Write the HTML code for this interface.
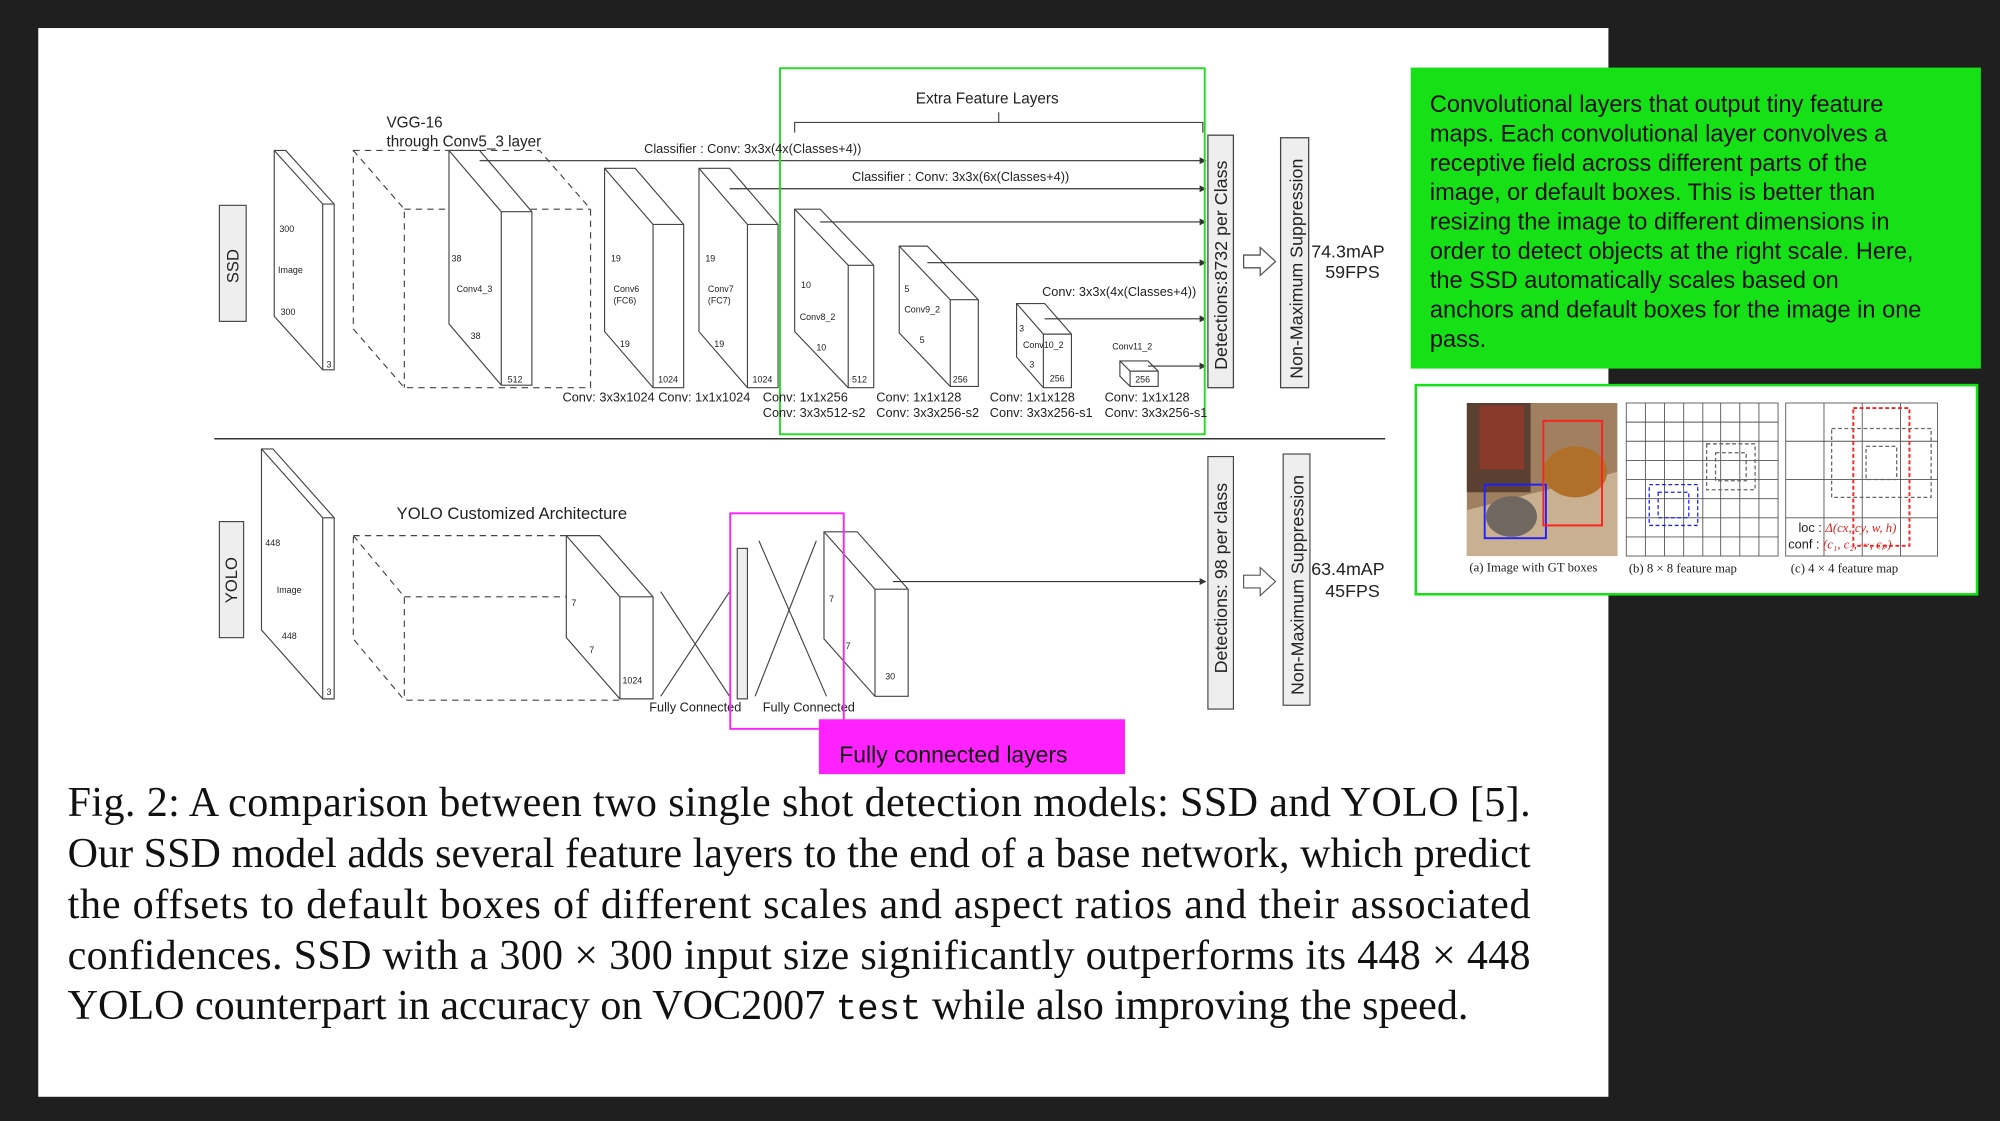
<!DOCTYPE html>
<html><head><meta charset="utf-8">
<style>
html,body{margin:0;padding:0;background:#1f1f1f;}
svg{display:block}
.s{font-family:"Liberation Sans",sans-serif;}
.r{font-family:"Liberation Serif",serif;}
</style></head>
<body>
<svg width="2000" height="1121" viewBox="0 0 1568 879" preserveAspectRatio="none" xmlns="http://www.w3.org/2000/svg">
<defs>
<marker id="a" markerWidth="6" markerHeight="6" refX="5" refY="3" orient="auto"><path d="M0,0 L6,3 L0,6 z" fill="#333"/></marker>
</defs>
<rect x="0" y="0" width="1568" height="879" fill="#1f1f1f"/>
<rect x="30" y="22" width="1231" height="838" fill="#fff"/>

<g fill="none" stroke="#444" stroke-width="0.9">
<rect x="172" y="161" width="21" height="91" fill="#eee"/>
<path d="M215,118 L224,118 L262,160 L262,290 L253,290 L215,248 Z M215,118 L253,160 L253,290 M253,160 L262,160"/>
<path stroke-dasharray="5,4" d="M277,118 L423,118 L463,164 L463,304 L317,304 L277,258 Z M277,118 L317,164 L317,304 M317,164 L463,164"/>
<path fill="#fff" d="M352,118 L376,118 L417,166 L417,302 L393,302 L352,254 Z"/>
<path d="M352,118 L393,166 L393,302 M393,166 L417,166"/>
<path fill="#fff" d="M474,132 L498,132 L536,176 L536,304 L512,304 L474,260 Z"/>
<path d="M474,132 L512,176 L512,304 M512,176 L536,176"/>
<path fill="#fff" d="M548,132 L572,132 L610,176 L610,304 L586,304 L548,260 Z"/>
<path d="M548,132 L586,176 L586,304 M586,176 L610,176"/>
<path fill="#fff" d="M623,164 L643,164 L685,208 L685,304 L665,304 L623,260 Z"/>
<path d="M623,164 L665,208 L665,304 M665,208 L685,208"/>
<path fill="#fff" d="M705,193 L727,193 L767,235 L767,303 L745,303 L705,261 Z"/>
<path d="M705,193 L745,235 L745,303 M745,235 L767,235"/>
<path fill="#fff" d="M797,238 L819,238 L840,262 L840,304 L818,304 L797,280 Z"/>
<path d="M797,238 L818,262 L818,304 M818,262 L840,262"/>
<path fill="#fff" d="M878,283 L900,283 L908,291 L908,303 L886,303 L878,295 Z"/>
<path d="M878,283 L886,291 L886,303 M886,291 L908,291"/>
</g>
<g stroke="#333" stroke-width="0.9" marker-end="url(#a)">
<line x1="376" y1="126" x2="945" y2="126"/>
<line x1="572" y1="148" x2="945" y2="148"/>
<line x1="643" y1="174" x2="945" y2="174"/>
<line x1="727" y1="206" x2="945" y2="206"/>
<line x1="819" y1="250" x2="945" y2="250"/>
<line x1="900" y1="287" x2="945" y2="287"/>
</g>
<path d="M623,104 L623,96 L783,96 L783,88 M783,96 L943,96 L943,104" fill="none" stroke="#444" stroke-width="0.9"/>
<rect x="947" y="106" width="20" height="198" fill="#eee" stroke="#444"/>
<rect x="1004" y="108" width="22" height="196" fill="#eee" stroke="#444"/>
<path d="M975,200 L988,200 L988,194 L1000,205 L988,216 L988,210 L975,210 Z" fill="#fff" stroke="#555"/>
<rect x="611.5" y="53.5" width="333" height="287" fill="none" stroke="#22dd22" stroke-width="1.5"/>

<g class="s" fill="#222" font-size="12">
<text x="718" y="81">Extra Feature Layers</text>
<text x="303" y="100">VGG-16</text>
<text x="303" y="115">through Conv5_3 layer</text>
<text x="505" y="120" font-size="10">Classifier : Conv: 3x3x(4x(Classes+4))</text>
<text x="668" y="142" font-size="10">Classifier : Conv: 3x3x(6x(Classes+4))</text>
<text x="817" y="232" font-size="10">Conv: 3x3x(4x(Classes+4))</text>
<text x="1028" y="202" font-size="14">74.3mAP</text>
<text x="1039" y="218" font-size="14">59FPS</text>
<text transform="translate(187,222) rotate(-90)" font-size="13">SSD</text>
<text transform="translate(962,290) rotate(-90)" font-size="14">Detections:8732 per Class</text>
<text transform="translate(1021,297) rotate(-90)" font-size="14">Non-Maximum Suppression</text>
<g font-size="7">
<text x="219" y="182">300</text><text x="218" y="214">Image</text><text x="220" y="247">300</text><text x="256" y="288">3</text>
<text x="354" y="205">38</text><text x="358" y="229">Conv4_3</text><text x="369" y="266">38</text><text x="398" y="300">512</text>
<text x="479" y="205">19</text><text x="481" y="229">Conv6</text><text x="481" y="238">(FC6)</text><text x="486" y="272">19</text><text x="516" y="300">1024</text>
<text x="553" y="205">19</text><text x="555" y="229">Conv7</text><text x="555" y="238">(FC7)</text><text x="560" y="272">19</text><text x="590" y="300">1024</text>
<text x="628" y="226">10</text><text x="627" y="251">Conv8_2</text><text x="640" y="275">10</text><text x="668" y="300">512</text>
<text x="709" y="229">5</text><text x="709" y="245">Conv9_2</text><text x="721" y="269">5</text><text x="747" y="300">256</text>
<text x="799" y="260">3</text><text x="802" y="273">Conv10_2</text><text x="807" y="288">3</text><text x="823" y="299">256</text>
<text x="872" y="274">Conv11_2</text><text x="890" y="300">256</text>
</g>
<g font-size="10">
<text x="441" y="315">Conv: 3x3x1024 Conv: 1x1x1024</text>
<text x="598" y="315">Conv: 1x1x256</text><text x="598" y="327">Conv:  3x3x512-s2</text>
<text x="687" y="315">Conv: 1x1x128</text><text x="687" y="327">Conv: 3x3x256-s2</text>
<text x="776" y="315">Conv: 1x1x128</text><text x="776" y="327">Conv: 3x3x256-s1</text>
<text x="866" y="315">Conv: 1x1x128</text><text x="866" y="327">Conv: 3x3x256-s1</text>
</g>
</g>

<line x1="168" y1="344" x2="1086" y2="344" stroke="#333" stroke-width="1.2"/>

<g fill="none" stroke="#444" stroke-width="0.9">
<rect x="172" y="409" width="19" height="91" fill="#eee"/>
<path d="M205,352 L214,352 L262,406 L262,548 L253,548 L205,494 Z M205,352 L253,406 L253,548 M253,406 L262,406"/>
<path stroke-dasharray="5,4" d="M277,420 L447,420 L487,468 L487,549 L317,549 L277,501 Z M277,420 L317,468 L317,549 M317,468 L487,468"/>
<path fill="#fff" d="M444,420 L470,420 L512,468 L512,548 L486,548 L444,500 Z"/>
<path d="M444,420 L486,468 L486,548 M486,468 L512,468"/>
<rect x="578" y="430" width="8" height="118" fill="#eee"/>
<path d="M518,464 L572,546 M518,546 L572,464 M592,546 L640,424 M595,424 L648,546"/>
<path fill="#fff" d="M646,417 L672,417 L712,462 L712,546 L686,546 L646,501 Z"/>
<path d="M646,417 L686,462 L686,546 M686,462 L712,462"/>
<rect x="947" y="358" width="20" height="198" fill="#eee"/>
<rect x="1006" y="356" width="21" height="197" fill="#eee"/>
<path d="M975,451 L988,451 L988,445 L1000,456 L988,467 L988,461 L975,461 Z" fill="#fff" stroke="#555"/>
</g>
<line x1="700" y1="456" x2="945" y2="456" stroke="#333" stroke-width="0.9" marker-end="url(#a)"/>
<g class="s" fill="#222" font-size="12">
<text x="311" y="407" font-size="13">YOLO Customized Architecture</text>
<text transform="translate(186,473) rotate(-90)" font-size="13">YOLO</text>
<text transform="translate(962,528) rotate(-90)" font-size="14">Detections: 98 per class</text>
<text transform="translate(1022,545) rotate(-90)" font-size="14">Non-Maximum Suppression</text>
<text x="1028" y="451" font-size="14">63.4mAP</text>
<text x="1039" y="468" font-size="14">45FPS</text>
<g font-size="7">
<text x="208" y="428">448</text><text x="217" y="465">Image</text><text x="221" y="501">448</text><text x="256" y="545">3</text>
<text x="448" y="475">7</text><text x="462" y="512">7</text><text x="488" y="536">1024</text>
<text x="650" y="472">7</text><text x="663" y="509">7</text><text x="694" y="533">30</text>
</g>
<text x="509" y="558" font-size="10">Fully Connected</text>
<text x="598" y="558" font-size="10">Fully Connected</text>
</g>
<rect x="572.5" y="402.5" width="89" height="169" fill="none" stroke="#ff22ff" stroke-width="1.5"/>
<rect x="642" y="564" width="240" height="43" fill="#ff22ff"/>
<text x="658" y="598" class="s" font-size="18" fill="#111">Fully connected layers</text>

<g class="r" font-size="33" fill="#111">
<text x="53" y="640" textLength="1147" lengthAdjust="spacing">Fig. 2: A comparison between two single shot detection models: SSD and YOLO [5].</text>
<text x="53" y="680" textLength="1147" lengthAdjust="spacing">Our SSD model adds several feature layers to the end of a base network, which predict</text>
<text x="53" y="720" textLength="1147" lengthAdjust="spacing">the offsets to default boxes of different scales and aspect ratios and their associated</text>
<text x="53" y="760" textLength="1147" lengthAdjust="spacing">confidences. SSD with a 300 × 300 input size significantly outperforms its 448 × 448</text>
<text x="53" y="799">YOLO counterpart in accuracy on VOC2007 <tspan font-family="Liberation Mono,monospace" font-size="28">test</tspan> while also improving the speed.</text>
</g>

<rect x="1106" y="53" width="447" height="236" fill="#16e016"/>
<g class="s" font-size="18.5" fill="#111">
<text x="1121" y="88">Convolutional layers that output tiny feature</text>
<text x="1121" y="111">maps. Each convolutional layer convolves a</text>
<text x="1121" y="134">receptive field across different parts of the</text>
<text x="1121" y="157">image, or default boxes. This is better than</text>
<text x="1121" y="180">resizing the image to different dimensions in</text>
<text x="1121" y="203">order to detect objects at the right scale. Here,</text>
<text x="1121" y="226">the SSD automatically scales based on</text>
<text x="1121" y="249">anchors and default boxes for the image in one</text>
<text x="1121" y="272">pass.</text>
</g>

<rect x="1110" y="302" width="440" height="164" fill="#fff" stroke="#16e016" stroke-width="2"/>
<rect x="1150" y="316" width="118" height="120" fill="#a08060"/>
<rect x="1150" y="316" width="50" height="70" fill="#5a4030"/>
<rect x="1160" y="318" width="35" height="50" fill="#8a3a2a"/>
<path d="M1150,400 L1268,370 L1268,436 L1150,436 Z" fill="#c8b090"/>
<ellipse cx="1235" cy="370" rx="25" ry="20" fill="#b0702a"/>
<ellipse cx="1185" cy="405" rx="20" ry="16" fill="#706860"/>
<rect x="1164" y="380" width="48" height="42" fill="none" stroke="#2020ff" stroke-width="1.5"/>
<rect x="1210" y="330" width="46" height="82" fill="none" stroke="#ff2020" stroke-width="1.5"/>
<g stroke="#555" stroke-width="0.7" fill="none">
<rect x="1275" y="316" width="119" height="120"/>
<path d="M1290,316V436M1305,316V436M1320,316V436M1335,316V436M1349,316V436M1364,316V436M1379,316V436M1275,331H1394M1275,346H1394M1275,361H1394M1275,376H1394M1275,391H1394M1275,406H1394M1275,421H1394"/>
<rect x="1400" y="316" width="119" height="120"/>
<path d="M1430,316V436M1460,316V436M1490,316V436M1400,346H1519M1400,376H1519M1400,406H1519"/>
</g>
<g fill="none" stroke-dasharray="3,2" stroke-width="1">
<rect x="1293" y="380" width="38" height="32" stroke="#2020ff"/>
<rect x="1300" y="386" width="24" height="20" stroke="#2020ff"/>
<rect x="1338" y="348" width="38" height="36" stroke="#666"/>
<rect x="1345" y="355" width="24" height="22" stroke="#666"/>
<rect x="1453" y="320" width="44" height="108" stroke="#ff2020" stroke-width="1.5"/>
<rect x="1436" y="336" width="78" height="54" stroke="#666"/>
<rect x="1463" y="350" width="24" height="26" stroke="#666"/>
</g>
<g class="r" font-size="10" fill="#222">
<text x="1152" y="448">(a) Image with GT boxes</text>
<text x="1277" y="449">(b) 8 × 8 feature map</text>
<text x="1404" y="449">(c) 4 × 4 feature map</text>
<text x="1410" y="417" class="s">loc : <tspan fill="#e02020" class="r" font-style="italic">Δ(cx, cy, w, h)</tspan></text>
<text x="1402" y="430" class="s">conf : <tspan fill="#e02020" class="r" font-style="italic">(c₁, c₂, ···, cₚ)</tspan></text>
</g>
</svg>
</body></html>
